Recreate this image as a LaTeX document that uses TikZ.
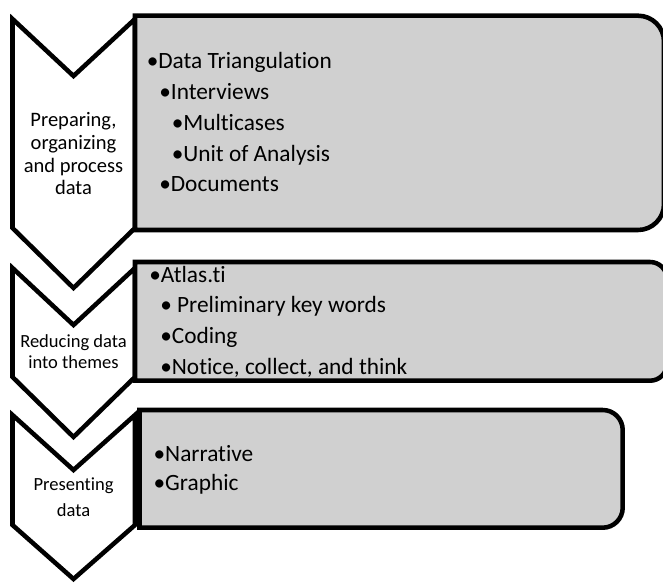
\documentclass[tikz,border=0pt]{standalone}
\usepackage{fontspec}
\setmainfont{Carlito}[Ligatures={NoCommon,NoContextual},RawFeature={-liga;-clig;-dlig}]
\begin{document}
\begin{tikzpicture}[x=0.75pt,y=-0.75pt,
  chevron/.style={draw=black,fill=white,line width=3.4pt,line join=miter,miter limit=10},
  panel/.style={draw=black,fill=panelgray,line width=3.4pt,line join=miter},
  item/.style={anchor=base west,inner sep=0pt,font=\fontsize{17.5}{21}\selectfont},
  stageA/.style={anchor=base,inner sep=0pt,font=\fontsize{15.4}{18}\selectfont},
  stageB/.style={anchor=base,inner sep=0pt,font=\fontsize{13.9}{16}\selectfont}]
\definecolor{panelgray}{RGB}{208,208,208}
\useasboundingbox (0,0) rectangle (663,584);
\clip (0,0) rectangle (663,584);

% stage chevrons
\draw[chevron] (12.5,19) -- (73.5,76) -- (135,19) -- (135,228) -- (73.5,288) -- (12.5,228) -- cycle;
\draw[chevron] (12.5,268) -- (73.5,325) -- (135,268) -- (135,377) -- (73.5,437) -- (12.5,377) -- cycle;
\draw[chevron] (12.5,415) -- (73.5,470) -- (135,415) -- (135,525) -- (73.5,579) -- (12.5,525) -- cycle;

% detail panels, rounded on the right only
\draw[panel] (135,15.7) -- (638,15.7) arc[start angle=90,end angle=0,radius=19.5pt]
  -- (664,204) arc[start angle=0,end angle=-90,radius=19.5pt] -- (135,230) -- cycle;
\draw[panel] (135,262) -- (650,262) arc[start angle=90,end angle=0,radius=12.75pt]
  -- (667,363.7) arc[start angle=0,end angle=-90,radius=12.75pt] -- (135,380.7) -- cycle;
\draw[panel] (139.5,410) -- (602.7,410) arc[start angle=90,end angle=0,radius=15pt]
  -- (622.7,507.7) arc[start angle=0,end angle=-90,radius=15pt] -- (139.5,527.7) -- cycle;

% stage labels
\node[stageA] (s1a) at (73.5,126.7) {Preparing,};
\node[stageA] (s1b) at (73.5,149.5) {organizing};
\node[stageA] (s1c) at (73.5,172.2) {and process};
\node[stageA] (s1d) at (73.5,194.5) {data};
\node[stageB] (s2a) at (73.5,347.7) {Reducing data};
\node[stageB] (s2b) at (73.5,368.3) {into themes};
\node[stageB] (s3a) at (73.5,490) {Presenting};
\node[stageB] (s3b) at (73.5,516.7) {data};

% panel items
\node[item] (p1a) at (146.5,69) {•Data Triangulation};
\node[item] (p1b) at (159,100) {•Interviews};
\node[item] (p1c) at (171.5,130.7) {•Multicases};
\node[item] (p1d) at (171.5,161.4) {•Unit of Analysis};
\node[item] (p1e) at (159,191.7) {•Documents};

\node[item] (p2a) at (149,282.7) {•Atlas.ti};
\node[item] (p2b) at (160,312.7) {• Preliminary key words};
\node[item] (p2c) at (160,343) {•Coding};
\node[item] (p2d) at (160,374) {•Notice, collect, and think};

\node[item] (p3a) at (153.3,461) {•Narrative};
\node[item] (p3b) at (153.3,490.7) {•Graphic};
\end{tikzpicture}
\end{document}
